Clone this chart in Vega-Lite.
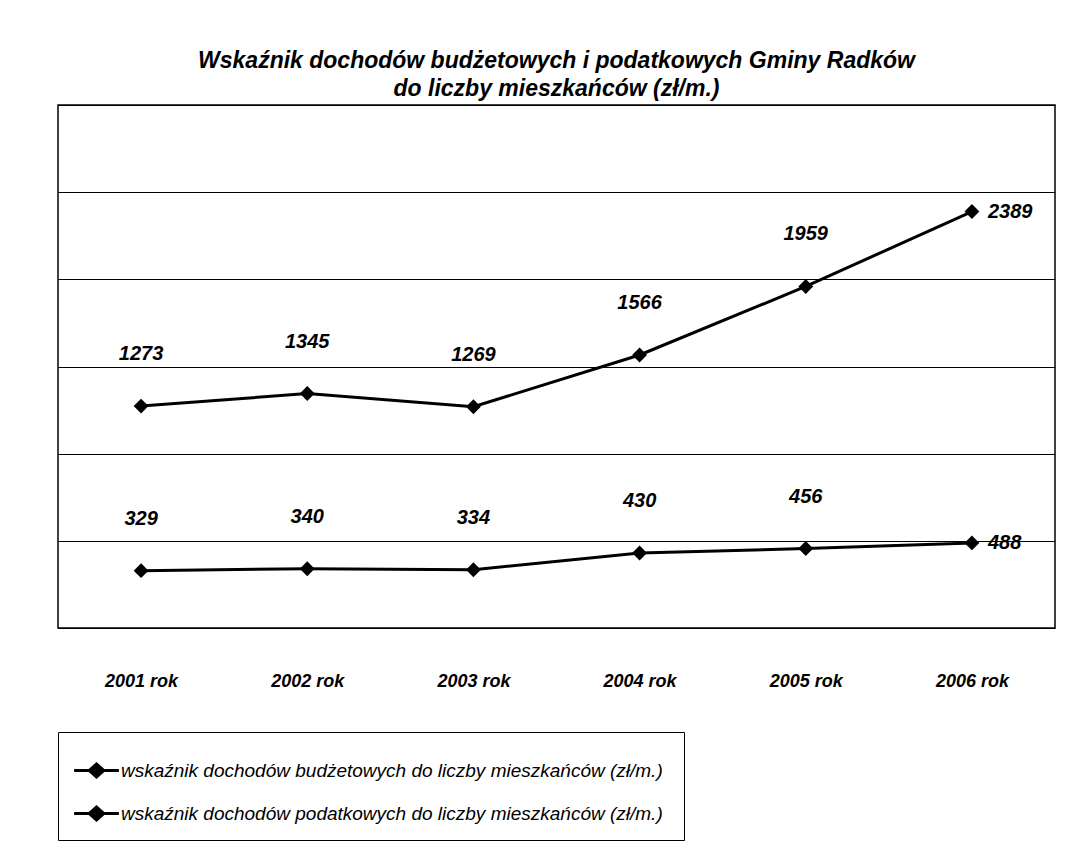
{
  "$schema": "https://vega.github.io/schema/vega-lite/v6.json",
  "autosize": {"type": "fit", "contains": "padding"},
  "width": 1085,
  "height": 866,
  "padding": {"left": 58, "right": 30, "top": 50, "bottom": 25},
  "background": "white",
  "title": {
    "text": ["Wskaźnik dochodów budżetowych i podatkowych Gminy Radków", "do liczby mieszkańców  (zł/m.)"],
    "font": "Liberation Sans",
    "fontSize": 23,
    "fontWeight": "bold",
    "fontStyle": "italic",
    "color": "black",
    "lineHeight": 28,
    "offset": 4,
    "anchor": "middle"
  },
  "data": {
    "values": [
      {"rok": "2001 rok", "seria": "wskaźnik dochodów budżetowych do liczby mieszkańców  (zł/m.)", "wartosc": 1273},
      {"rok": "2002 rok", "seria": "wskaźnik dochodów budżetowych do liczby mieszkańców  (zł/m.)", "wartosc": 1345},
      {"rok": "2003 rok", "seria": "wskaźnik dochodów budżetowych do liczby mieszkańców  (zł/m.)", "wartosc": 1269},
      {"rok": "2004 rok", "seria": "wskaźnik dochodów budżetowych do liczby mieszkańców  (zł/m.)", "wartosc": 1566},
      {"rok": "2005 rok", "seria": "wskaźnik dochodów budżetowych do liczby mieszkańców  (zł/m.)", "wartosc": 1959},
      {"rok": "2006 rok", "seria": "wskaźnik dochodów budżetowych do liczby mieszkańców  (zł/m.)", "wartosc": 2389},
      {"rok": "2001 rok", "seria": "wskaźnik dochodów podatkowych do liczby mieszkańców (zł/m.)", "wartosc": 329},
      {"rok": "2002 rok", "seria": "wskaźnik dochodów podatkowych do liczby mieszkańców (zł/m.)", "wartosc": 340},
      {"rok": "2003 rok", "seria": "wskaźnik dochodów podatkowych do liczby mieszkańców (zł/m.)", "wartosc": 334},
      {"rok": "2004 rok", "seria": "wskaźnik dochodów podatkowych do liczby mieszkańców (zł/m.)", "wartosc": 430},
      {"rok": "2005 rok", "seria": "wskaźnik dochodów podatkowych do liczby mieszkańców (zł/m.)", "wartosc": 456},
      {"rok": "2006 rok", "seria": "wskaźnik dochodów podatkowych do liczby mieszkańców (zł/m.)", "wartosc": 488}
    ]
  },
  "encoding": {
    "x": {
      "field": "rok", "type": "nominal", "sort": null,
      "scale": {"paddingInner": 0, "paddingOuter": 0.5},
      "axis": {
        "title": null, "labelAngle": 0, "ticks": false, "domain": false,
        "labelPadding": 44, "labelFont": "Liberation Sans", "labelFontSize": 18,
        "labelFontWeight": "bold", "labelFontStyle": "italic", "labelColor": "black"
      }
    },
    "y": {
      "field": "wartosc", "type": "quantitative",
      "scale": {"domain": [0, 3000], "nice": false},
      "axis": {
        "title": null, "labels": false, "ticks": false, "domain": false,
        "values": [0, 500, 1000, 1500, 2000, 2500, 3000],
        "grid": true, "gridColor": "black", "gridWidth": 1, "gridOpacity": 1
      }
    },
    "color": {
      "field": "seria", "type": "nominal",
      "scale": {"range": ["black", "black"]},
      "legend": {
        "title": null, "orient": "bottom", "direction": "vertical",
        "labelFont": "Liberation Sans", "labelFontSize": 19, "labelFontStyle": "italic",
        "labelColor": "black", "labelLimit": 900,
        "symbolType": "M-1,-0.07L-0.35,-0.07L0,-0.38L0.35,-0.07L1,-0.07L1,0.07L0.35,0.07L0,0.38L-0.35,0.07L-1,0.07Z",
        "symbolSize": 2000, "symbolFillColor": "black", "symbolStrokeColor": "black", "symbolStrokeWidth": 0,
        "rowPadding": 10, "labelOffset": 2,
        "strokeColor": "black", "padding": 16, "offset": 42
      }
    }
  },
  "layer": [
    {"mark": {"type": "line", "strokeWidth": 3}, "encoding": {"detail": {"field": "seria"}}},
    {"mark": {"type": "point", "shape": "diamond", "filled": true, "size": 220, "opacity": 1}},
    {
      "transform": [{"filter": "datum.rok !== '2006 rok'"}],
      "mark": {"type": "text", "dy": -52, "font": "Liberation Sans", "fontSize": 20, "fontWeight": "bold", "fontStyle": "italic", "color": "black"},
      "encoding": {"text": {"field": "wartosc"}, "color": {"value": "black"}}
    },
    {
      "transform": [{"filter": "datum.rok === '2006 rok'"}],
      "mark": {"type": "text", "align": "left", "dx": 16, "font": "Liberation Sans", "fontSize": 20, "fontWeight": "bold", "fontStyle": "italic", "color": "black"},
      "encoding": {"text": {"field": "wartosc"}, "color": {"value": "black"}}
    }
  ],
  "config": {
    "view": {"stroke": "black", "strokeWidth": 1.5}
  }
}
